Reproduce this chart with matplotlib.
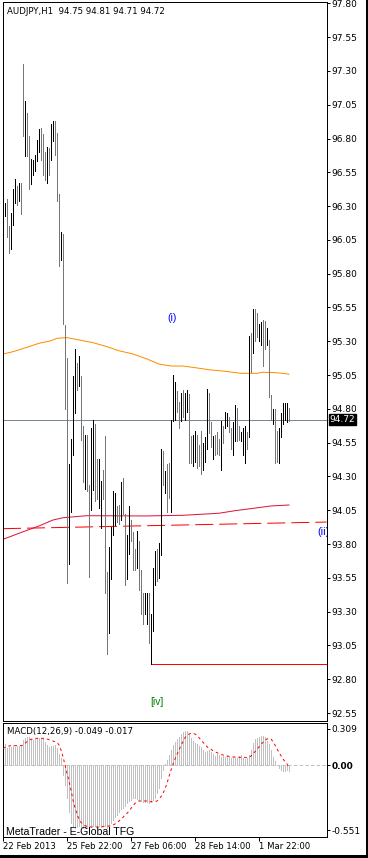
import numpy as np
import matplotlib
matplotlib.use("Agg")
import matplotlib.pyplot as plt
from matplotlib.patches import Rectangle

plt.rcParams['font.family'] = ['DejaVu Sans']
plt.rcParams['lines.scale_dashes'] = False

# ---------------- data ----------------
bar_high = [96.38, 96.32, 96.35, 96.15, 96.25, 96.43, 96.50, 96.45, 96.47, 96.47,
            97.35, 97.08, 96.99, 96.82, 96.65, 96.64, 96.68, 96.79, 96.87, 96.88,
            96.83, 96.70, 96.74, 96.73, 96.91, 96.93, 96.93, 96.84, 96.39, 96.11,
            96.09, 95.42, 95.18, 94.39, 94.58, 95.04, 95.24, 95.14, 95.19, 95.04,
            94.67, 94.61, 94.61, 94.24, 94.66, 94.72, 94.69, 94.43, 94.43, 94.27,
            94.35, 94.60, 93.59, 93.78, 93.93, 94.19, 94.18, 94.08, 94.09, 94.26,
            94.29, 94.02, 93.87, 94.08, 93.98, 93.89, 93.76, 93.90, 93.82, 93.61,
            93.44, 93.44, 93.44, 93.44, 93.28, 93.62, 93.75, 93.76, 93.81, 94.50,
            94.49, 94.34, 94.39, 94.40, 94.72, 95.05, 95.00, 94.93, 94.85, 94.92,
            94.94, 94.92, 94.94, 94.91, 94.60, 94.61, 94.64, 94.61, 94.53, 94.64,
            94.55, 94.59, 94.95, 94.92, 94.70, 94.60, 94.61, 94.63, 94.58, 94.71,
            94.67, 94.78, 94.77, 94.74, 94.66, 94.70, 94.83, 94.81, 94.67, 94.63,
            94.66, 94.67, 94.63, 95.34, 95.36, 95.54, 95.54, 95.51, 95.43, 95.44,
            95.46, 95.45, 95.40, 95.31, 94.90, 94.80, 94.80, 94.64, 94.66, 94.77,
            94.84, 94.84, 94.84, 94.81]
bar_low = [96.22, 96.23, 96.07, 95.95, 95.98, 96.16, 96.32, 96.31, 96.34, 96.24,
           96.82, 96.67, 96.67, 96.43, 96.46, 96.53, 96.56, 96.63, 96.70, 96.64,
           96.53, 96.49, 96.47, 96.53, 96.64, 96.78, 96.68, 96.34, 95.86, 95.90,
           95.43, 94.80, 93.51, 93.65, 94.04, 94.46, 94.77, 94.94, 94.97, 94.57,
           94.26, 94.21, 94.19, 93.56, 94.05, 94.20, 94.12, 94.13, 94.07, 93.92,
           94.13, 93.44, 92.99, 93.14, 93.54, 93.87, 93.94, 93.96, 93.95, 93.98,
           94.02, 93.50, 93.54, 93.73, 93.82, 93.61, 93.61, 93.62, 93.46, 93.28,
           93.21, 93.28, 93.21, 93.07, 92.91, 93.16, 93.50, 93.53, 93.55, 93.72,
           94.24, 94.18, 94.04, 94.14, 94.04, 94.71, 94.72, 94.78, 94.66, 94.71,
           94.74, 94.72, 94.78, 94.40, 94.40, 94.38, 94.41, 94.36, 94.38, 94.32,
           94.35, 94.41, 94.50, 94.62, 94.52, 94.43, 94.46, 94.47, 94.46, 94.35,
           94.55, 94.66, 94.67, 94.63, 94.50, 94.46, 94.56, 94.56, 94.57, 94.56,
           94.46, 94.40, 94.50, 94.59, 95.07, 95.21, 95.30, 95.33, 95.30, 95.27,
           95.12, 95.24, 95.27, 94.89, 94.72, 94.69, 94.40, 94.41, 94.40, 94.59,
           94.69, 94.72, 94.70, 94.71]
bar_bull = [1, 1, 0, 0, 1, 1, 1, 0, 1, 0,
            0, 1, 0, 0, 1, 1, 1, 1, 1, 0,
            0, 0, 1, 0, 1, 1, 0, 0, 0, 1,
            0, 0, 0, 1, 1, 1, 1, 0, 1, 0,
            0, 1, 0, 0, 1, 1, 0, 0, 1, 1,
            0, 0, 0, 1, 1, 1, 1, 0, 0, 1,
            0, 0, 1, 1, 0, 0, 0, 1, 0, 0,
            0, 1, 1, 0, 1, 1, 1, 0, 1, 1,
            0, 1, 0, 0, 1, 1, 1, 0, 0, 1,
            0, 1, 1, 0, 0, 1, 1, 0, 0, 0,
            1, 1, 1, 0, 0, 1, 0, 0, 0, 1,
            0, 1, 1, 0, 0, 1, 1, 0, 0, 1,
            1, 1, 0, 1, 0, 1, 0, 0, 1, 1,
            0, 0, 1, 0, 0, 1, 0, 0, 1, 1,
            1, 1, 1, 0]

macd_hist = [0.175, 0.175, 0.141, 0.155, 0.155, 0.169, 0.155, 0.164, 0.164, 0.164,
             0.212, 0.232, 0.240, 0.234, 0.220, 0.212, 0.220, 0.220, 0.226, 0.232,
             0.220, 0.198, 0.169, 0.155, 0.164, 0.161, 0.169, 0.141, 0.090, 0.062,
             -0.085, -0.170, -0.280, -0.400, -0.490, -0.520, -0.530, -0.523, -0.514, -0.523,
             -0.530, -0.530, -0.530, -0.530, -0.523, -0.517, -0.517, -0.523, -0.517, -0.523,
             -0.517, -0.517, -0.530, -0.523, -0.494, -0.466, -0.438, -0.424, -0.401, -0.373,
             -0.362, -0.345, -0.325, -0.305, -0.297, -0.282, -0.282, -0.288, -0.297, -0.305,
             -0.316, -0.316, -0.316, -0.325, -0.316, -0.297, -0.277, -0.240, -0.198, -0.113,
             -0.042, 0.010, 0.042, 0.085, 0.127, 0.169, 0.192, 0.220, 0.240, 0.260,
             0.277, 0.288, 0.291, 0.266, 0.232, 0.203, 0.184, 0.175, 0.164, 0.155,
             0.127, 0.113, 0.119, 0.127, 0.107, 0.090, 0.079, 0.090, 0.085, 0.071,
             0.079, 0.071, 0.085, 0.071, 0.062, 0.071, 0.071, 0.062, 0.079, 0.085,
             0.056, 0.051, 0.062, 0.085, 0.127, 0.184, 0.220, 0.232, 0.240, 0.249,
             0.249, 0.240, 0.203, 0.175, 0.127, 0.071, 0.034, 0.000, -0.028, -0.042,
             -0.051, -0.051, -0.042, -0.049]
macd_signal = [0.141, 0.150, 0.155, 0.161, 0.164, 0.164, 0.164, 0.164, 0.164, 0.164,
               0.169, 0.184, 0.198, 0.209, 0.218, 0.220, 0.226, 0.226, 0.226, 0.226,
               0.226, 0.226, 0.220, 0.215, 0.209, 0.203, 0.198, 0.192, 0.169, 0.127,
               0.071, 0.000, -0.071, -0.136, -0.212, -0.297, -0.362, -0.418, -0.458, -0.486,
               -0.503, -0.514, -0.520, -0.523, -0.525, -0.525, -0.525, -0.525, -0.525, -0.523,
               -0.523, -0.520, -0.520, -0.517, -0.514, -0.508, -0.500, -0.486, -0.475, -0.458,
               -0.444, -0.424, -0.410, -0.390, -0.367, -0.345, -0.325, -0.311, -0.305, -0.305,
               -0.305, -0.305, -0.305, -0.311, -0.311, -0.311, -0.311, -0.305, -0.288, -0.268,
               -0.240, -0.203, -0.155, -0.099, -0.042, 0.006, 0.051, 0.090, 0.127, 0.164,
               0.198, 0.232, 0.249, 0.263, 0.268, 0.268, 0.263, 0.249, 0.232, 0.212,
               0.192, 0.175, 0.155, 0.141, 0.133, 0.121, 0.113, 0.105, 0.096, 0.088,
               0.085, 0.079, 0.076, 0.073, 0.071, 0.068, 0.068, 0.065, 0.065, 0.065,
               0.065, 0.065, 0.062, 0.065, 0.076, 0.093, 0.113, 0.133, 0.155, 0.175,
               0.192, 0.209, 0.220, 0.226, 0.220, 0.198, 0.169, 0.136, 0.107, 0.079,
               0.051, 0.028, 0.008, -0.017]

ma_orange_idx = [0, 5, 12, 18, 24, 27, 32, 38, 45, 52, 58, 65, 72, 78, 84, 90, 96, 104, 110, 119, 127, 130, 136, 140, 143]
ma_orange_val = [95.206, 95.223, 95.256, 95.285, 95.304, 95.322, 95.327, 95.310, 95.290, 95.260, 95.230, 95.206,
                 95.169, 95.132, 95.117, 95.117, 95.105, 95.088, 95.080, 95.063, 95.063, 95.071, 95.068, 95.063, 95.056]
ma_crimson_idx = [0, 8, 18, 25, 30, 42, 71, 90, 108, 116, 129, 134, 143]
ma_crimson_val = [93.835, 93.880, 93.934, 93.978, 93.995, 94.010, 94.008, 94.013, 94.028, 94.047, 94.072, 94.082, 94.089]

trend_idx = [0, 161.75]
trend_val = [93.914, 93.963]
low_level = 92.91
low_level_start = 74
last_price = 94.72

price_ticks = [round(92.55 + 0.25 * k, 2) for k in range(22)]
macd_ticks = [0.309, 0.0, -0.551]
macd_tick_labels = ['0.309', '0.00', '-0.551']
time_tick_idx = [0, 32, 64, 96, 128]
time_tick_labels = ['22 Feb 2013', '25 Feb 22:00', '27 Feb 06:00', '28 Feb 14:00', '1 Mar 22:00']

title_text = 'AUDJPY,H1  94.75 94.81 94.71 94.72'
macd_title = 'MACD(12,26,9) -0.049 -0.017'

assert len(bar_high) == len(bar_low) == len(bar_bull) == len(macd_hist) == len(macd_signal) == 144

# ---------------- layout ----------------
W, H = 368, 858
fig = plt.figure(figsize=(W / 100, H / 100), dpi=100)
fig.patch.set_facecolor('white')

def fr(x0, y0, x1, y1):
    return [x0 / W, 1 - y1 / H, (x1 - x0) / W, (y1 - y0) / H]

ax = fig.add_axes(fr(2.5, 1.7, 326.5, 720.5))
ax2 = fig.add_axes(fr(2.5, 723.3, 326.5, 837.3))

LW = 0.72  # 1 px
idx = np.arange(len(bar_high))
xlim = (-0.25, 161.75)

# ---------------- main price panel ----------------
cols = ['#000000' if b else '#767676' for b in bar_bull]
ax.vlines(idx, bar_low, bar_high, colors=cols, lw=LW, antialiased=False, zorder=3)
ax.axhline(last_price, color='#778899', lw=LW, zorder=2)
ax.plot(ma_orange_idx, ma_orange_val, color='#ff8c00', lw=LW, zorder=2)
ax.plot(ma_crimson_idx, ma_crimson_val, color='#dc143c', lw=LW, zorder=2)
ax.plot(trend_idx, trend_val, color='#ff0000', lw=LW, dashes=(13, 4.3), zorder=2)
ax.hlines(low_level, low_level_start, xlim[1], color='#ff0000', lw=LW, zorder=2)

ax.text(84.75, 95.472, '(i)', color='#0000ff', fontsize=7.6, family='Liberation Sans',
        ha='center', va='center')
ax.text(157.4, 93.886, '(ii)', color='#0000ff', fontsize=7.8, family='Liberation Sans',
        ha='left', va='center', clip_on=True)
ax.text(77, 92.632, '[iv]', color='#008000', fontsize=7.4, family='Liberation Sans',
        ha='center', va='center')

ax.text(4.5 / 324, 1 - 9.5 / 718.8, title_text, transform=ax.transAxes, fontsize=6.2,
        ha='left', va='center')

ax.set_xlim(*xlim)
ax.set_ylim(92.495, 97.812)
ax.set_xticks([])
ax.yaxis.tick_right()
ax.set_yticks(price_ticks)
ax.set_yticklabels(['%.2f' % t for t in price_ticks])
ax.tick_params(axis='y', direction='out', length=2.2, width=LW, pad=1.2, labelsize=6.5)

ax.annotate('%.2f' % last_price, xy=(1, last_price), xycoords=('axes fraction', 'data'),
            xytext=(2.3, 0), textcoords='offset points', ha='left', va='center',
            color='white', fontsize=6.5, annotation_clip=False,
            bbox=dict(boxstyle='square,pad=0.12', fc='black', ec='black'), zorder=10)

for s in ax.spines.values():
    s.set_linewidth(LW)
    s.set_color('black')

# ---------------- MACD panel ----------------
ax2.axhline(0, color='#c0c0c0', lw=LW, dashes=(2.5, 1.6), zorder=1)
ax2.vlines(idx, 0, macd_hist, colors='#c0c0c0', lw=LW, antialiased=False, zorder=2)
ax2.plot(idx, macd_signal, color='#ff0000', lw=LW, dashes=(2.0, 2.2), zorder=3)

ax2.set_xlim(*xlim)
ax2.set_ylim(-0.6127, 0.3534)
ax2.yaxis.tick_right()
ax2.set_yticks(macd_ticks)
ax2.set_yticklabels(macd_tick_labels)
ax2.tick_params(axis='y', direction='out', length=2.2, width=LW, pad=1.2, labelsize=6.5)
for lab in ax2.get_yticklabels():
    if lab.get_text() == '0.00':
        lab.set_fontweight('bold')
ax2.set_xticks(time_tick_idx)
ax2.set_xticklabels(time_tick_labels)
ax2.tick_params(axis='x', direction='out', length=2.9, width=LW, pad=0.6, labelsize=6.1)
for lab in ax2.get_xticklabels():
    lab.set_horizontalalignment('left')

ax2.text(4.5 / 324, 1 - 8.5 / 114, macd_title, transform=ax2.transAxes, fontsize=6.2,
         ha='left', va='center')
ax2.text(4.0 / 324, 0.004, 'MetaTrader - E-Global TFG', transform=ax2.transAxes,
         fontsize=7.6, family='Liberation Sans', ha='left', va='bottom')

for s in ax2.spines.values():
    s.set_linewidth(LW)
    s.set_color('black')

# window frame edges
fig.add_artist(Rectangle((365.5 / W, 0), 2.5 / W, 1, transform=fig.transFigure,
                         facecolor='black', edgecolor='none'))
fig.add_artist(Rectangle((0, 0), 1, 3.2 / H, transform=fig.transFigure,
                         facecolor='black', edgecolor='none'))

fig.savefig('out.png', dpi=100, facecolor='white')
